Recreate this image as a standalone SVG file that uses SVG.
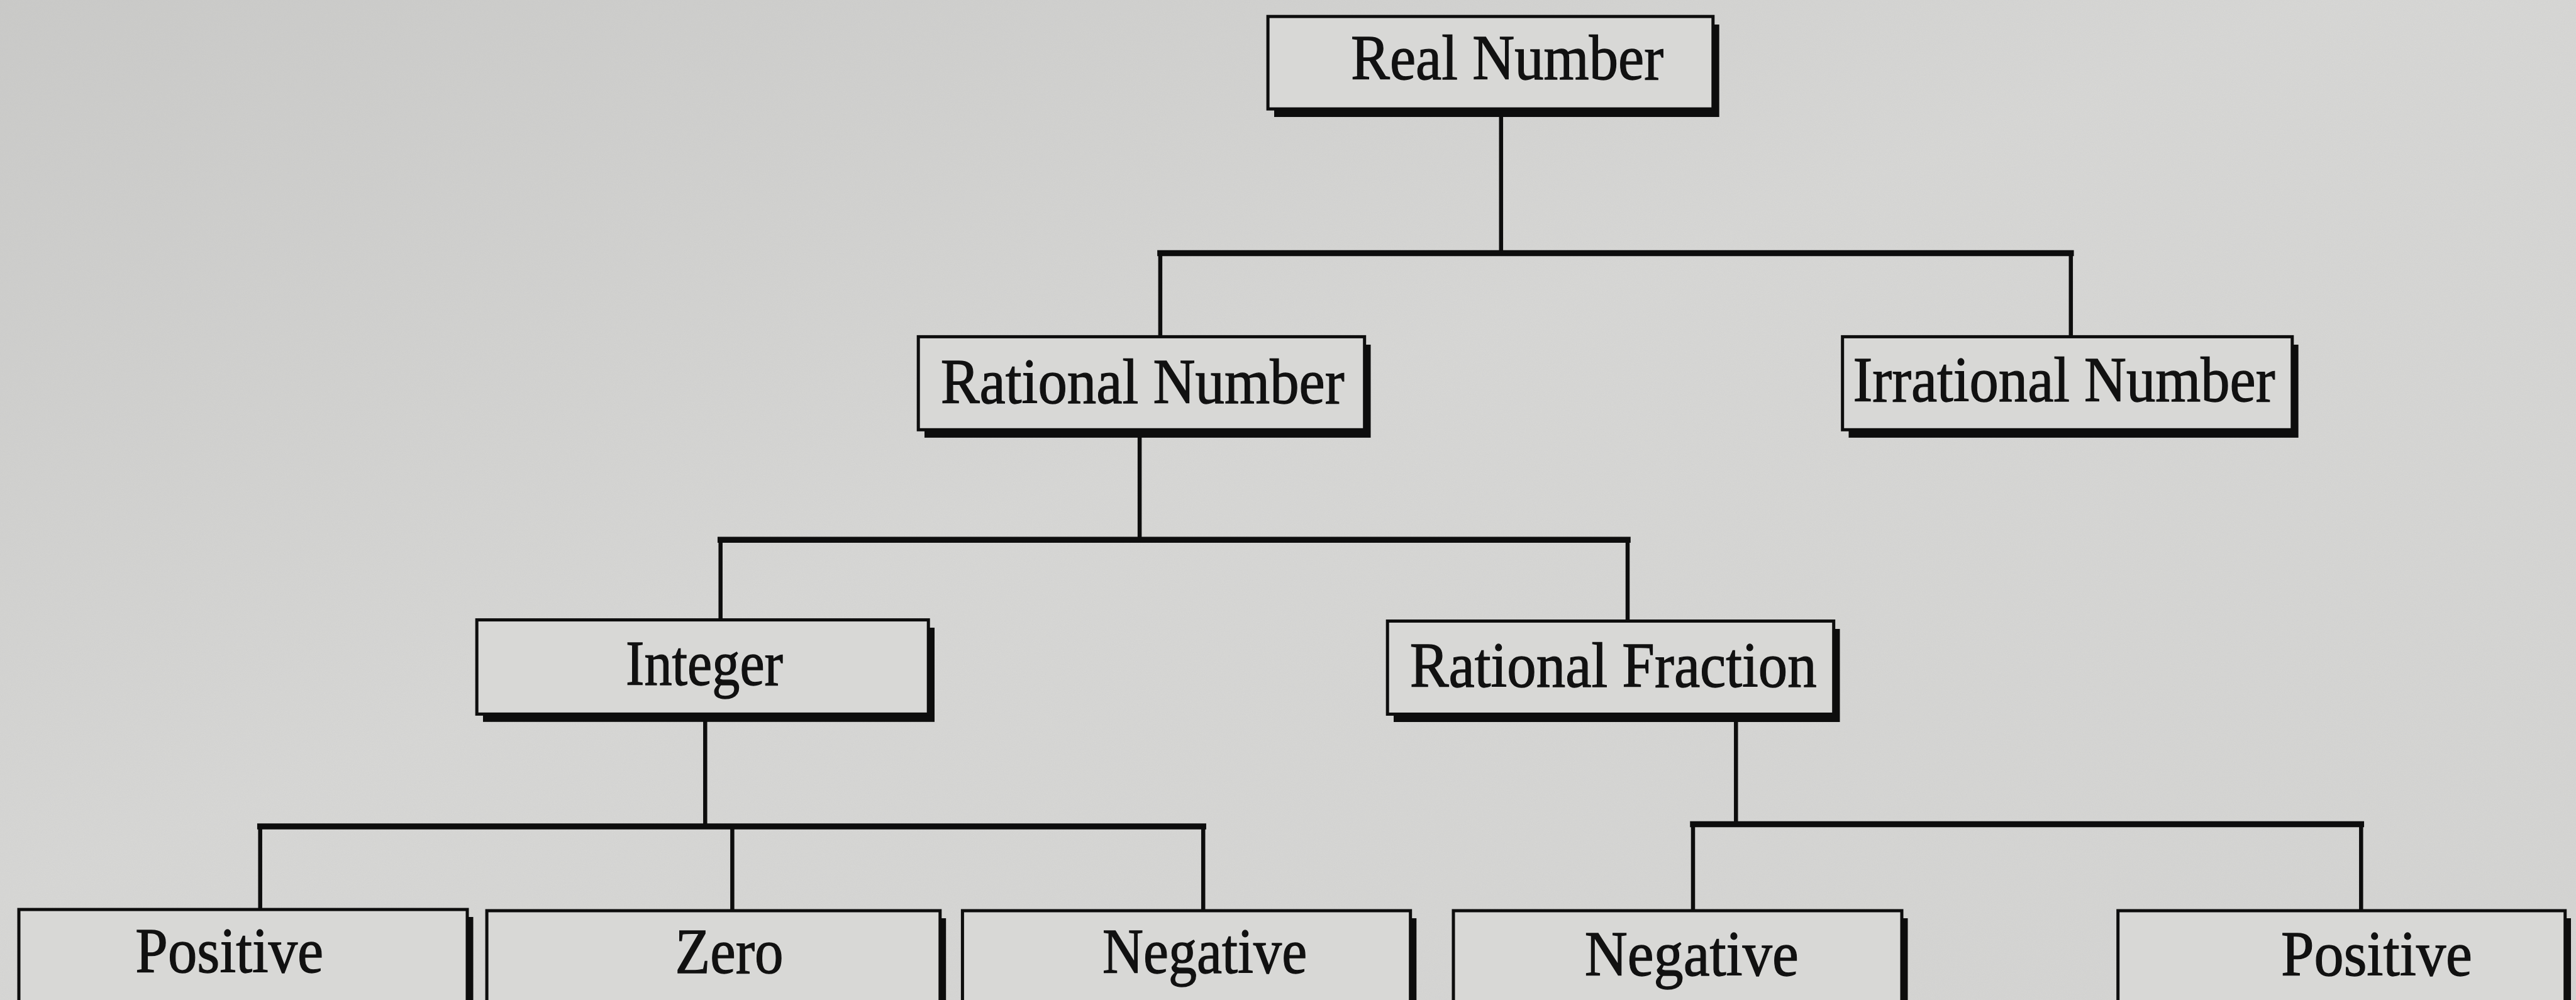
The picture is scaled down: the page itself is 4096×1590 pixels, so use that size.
<svg xmlns="http://www.w3.org/2000/svg" width="4096" height="1590" viewBox="0 0 4096 1590">
<style>
.box{fill:#d8d8d6;stroke:#0d0d0d;stroke-width:5}
.shadow{fill:#0d0d0d}
.lbl{font-family:"Liberation Serif","Times New Roman",serif;font-size:102px;fill:#111;stroke:#111;stroke-width:1.3}
.v{stroke:#0d0d0d;stroke-width:6.5;fill:none}
.h{stroke:#0d0d0d;stroke-width:9.5;fill:none;stroke-linecap:square}
</style>
<defs>
<linearGradient id="bg" x1="0" y1="0" x2="1" y2="1">
<stop offset="0" stop-color="#cbcbc9"/>
<stop offset="0.45" stop-color="#d9d9d7"/>
<stop offset="1" stop-color="#d6d6d4"/>
</linearGradient>
<filter id="grain" x="0" y="0" width="100%" height="100%">
<feTurbulence type="fractalNoise" baseFrequency="0.8" numOctaves="1" seed="3"/>
<feColorMatrix type="matrix" values="0 0 0 0 0.5  0 0 0 0 0.5  0 0 0 0 0.5  0 0 0 0.25 0"/>
</filter>
</defs>
<rect width="4096" height="1590" fill="url(#bg)"/>
<rect width="4096" height="1590" filter="url(#grain)"/>

<g id="connectors">
<line class="v" x1="2386.8" y1="173" x2="2386.8" y2="402.5"/>
<line class="h" x1="1844.9" y1="402.5" x2="3292.8" y2="402.5"/>
<line class="v" x1="1844.9" y1="402.5" x2="1844.9" y2="535.4"/>
<line class="v" x1="3292.8" y1="402.5" x2="3292.8" y2="535.4"/>

<line class="v" x1="1812.1" y1="683" x2="1812.1" y2="858.3"/>
<line class="h" x1="1145.7" y1="858.3" x2="2588" y2="858.3"/>
<line class="v" x1="1145.7" y1="858.3" x2="1145.7" y2="985.6"/>
<line class="v" x1="2588" y1="858.3" x2="2588" y2="987.5"/>

<line class="v" x1="1121.3" y1="1135" x2="1121.3" y2="1314.1"/>
<line class="h" x1="413.7" y1="1314.1" x2="1913.2" y2="1314.1"/>
<line class="v" x1="413.7" y1="1314.1" x2="413.7" y2="1446"/>
<line class="v" x1="1164.4" y1="1314.1" x2="1164.4" y2="1448"/>
<line class="v" x1="1913.2" y1="1314.1" x2="1913.2" y2="1448"/>

<line class="v" x1="2760.3" y1="1135" x2="2760.3" y2="1310.4"/>
<line class="h" x1="2692" y1="1310.4" x2="3754.3" y2="1310.4"/>
<line class="v" x1="2692" y1="1310.4" x2="2692" y2="1448"/>
<line class="v" x1="3754.3" y1="1310.4" x2="3754.3" y2="1448"/>
</g>

<g id="real-number">
<rect class="shadow" x="2026" y="39" width="707.7" height="147"/>
<rect class="box" x="2016.1" y="26.2" width="707.7" height="147"/>
<text class="lbl" x="2148.1" y="126.4" textLength="497" lengthAdjust="spacingAndGlyphs">Real Number</text>
</g>

<g id="rational-number">
<rect class="shadow" x="1470" y="548" width="709.5" height="147.9"/>
<rect class="box" x="1460.2" y="535.4" width="709.5" height="147.9"/>
<text class="lbl" x="1495.7" y="641.2" textLength="642" lengthAdjust="spacingAndGlyphs">Rational Number</text>
</g>

<g id="irrational-number">
<rect class="shadow" x="2939.5" y="548" width="715.1" height="147.9"/>
<rect class="box" x="2929.7" y="535.4" width="715.1" height="147.9"/>
<text class="lbl" x="2946.5" y="637.5" textLength="671" lengthAdjust="spacingAndGlyphs">Irrational Number</text>
</g>

<g id="integer">
<rect class="shadow" x="768" y="998" width="718" height="149.8"/>
<rect class="box" x="758.2" y="985.6" width="718" height="149.8"/>
<text class="lbl" x="995" y="1088.6" textLength="250" lengthAdjust="spacingAndGlyphs">Integer</text>
</g>

<g id="rational-fraction">
<rect class="shadow" x="2216" y="1000" width="709.5" height="148"/>
<rect class="box" x="2206.2" y="987.5" width="709.5" height="148"/>
<text class="lbl" x="2241.7" y="1092.3" textLength="647" lengthAdjust="spacingAndGlyphs">Rational Fraction</text>
</g>

<g id="positive-integer">
<rect class="shadow" x="39.5" y="1458" width="713" height="200"/>
<rect class="box" x="30" y="1446.1" width="713" height="200"/>
<text class="lbl" x="215.3" y="1546.3" textLength="299" lengthAdjust="spacingAndGlyphs">Positive</text>
</g>

<g id="zero">
<rect class="shadow" x="783.5" y="1460" width="720.7" height="200"/>
<rect class="box" x="774.1" y="1448" width="720.7" height="200"/>
<text class="lbl" x="1073.6" y="1547.2" textLength="172" lengthAdjust="spacingAndGlyphs">Zero</text>
</g>

<g id="negative-integer">
<rect class="shadow" x="1540" y="1460" width="712.3" height="200"/>
<rect class="box" x="1530.4" y="1448" width="712.3" height="200"/>
<text class="lbl" x="1753.1" y="1547.2" textLength="325" lengthAdjust="spacingAndGlyphs">Negative</text>
</g>

<g id="negative-fraction">
<rect class="shadow" x="2320.5" y="1460" width="713" height="200"/>
<rect class="box" x="2311" y="1448" width="713" height="200"/>
<text class="lbl" x="2519.7" y="1551" textLength="340" lengthAdjust="spacingAndGlyphs">Negative</text>
</g>

<g id="positive-fraction">
<rect class="shadow" x="3377" y="1460" width="711" height="200"/>
<rect class="box" x="3367.7" y="1448" width="711" height="200"/>
<text class="lbl" x="3627" y="1551" textLength="304" lengthAdjust="spacingAndGlyphs">Positive</text>
</g>
</svg>
